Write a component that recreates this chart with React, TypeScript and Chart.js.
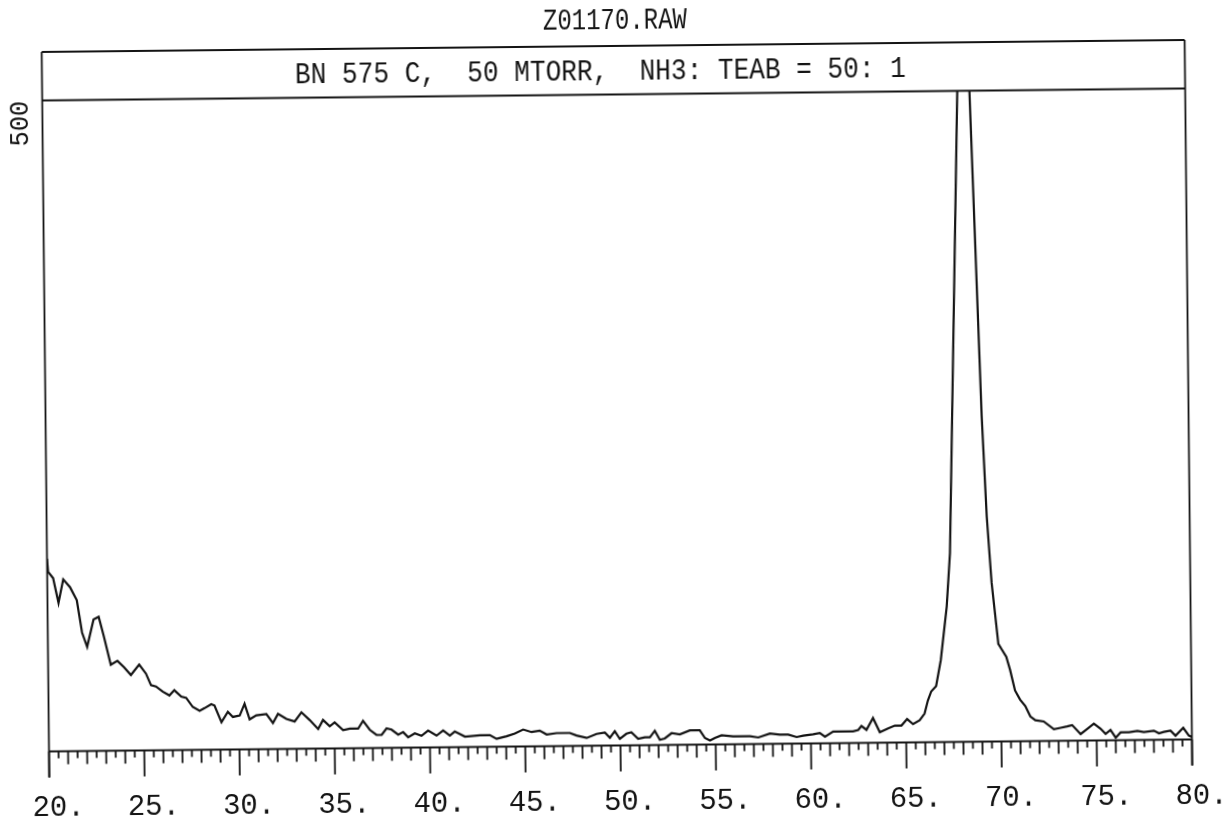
import { useEffect, useRef } from 'react';
import { Chart, registerables } from 'chart.js';

Chart.register(...registerables);

// Diffraction scan: 2-theta (degrees) and detector counts
const TWO_THETA = [
  20.0, 20.05, 20.31, 20.58, 20.84, 21.19, 21.54, 21.8, 22.06, 22.41, 22.68, 22.94, 23.29, 23.64, 23.99,
  24.34, 24.78, 25.13, 25.39, 25.65, 26.0, 26.35, 26.61, 26.97, 27.23, 27.57, 27.93, 28.19, 28.54, 28.71,
  29.07, 29.41, 29.67, 30.03, 30.29, 30.55, 30.9, 31.43, 31.77, 32.04, 32.48, 32.91, 33.27, 33.7, 34.14,
  34.4, 34.75, 35.01, 35.45, 35.8, 36.24, 36.5, 36.85, 37.2, 37.47, 37.73, 37.99, 38.34, 38.6, 38.86,
  39.21, 39.56, 39.91, 40.35, 40.7, 41.05, 41.31, 41.84, 42.63, 43.15, 43.5, 44.03, 44.46, 44.9, 45.34,
  45.77, 46.13, 46.65, 47.35, 47.7, 48.23, 48.75, 49.19, 49.45, 49.71, 49.97, 50.32, 50.58, 50.93, 51.28,
  51.55, 51.81, 52.07, 52.33, 52.69, 53.12, 53.65, 54.17, 54.44, 54.7, 54.96, 55.31, 55.92, 56.8, 57.24,
  57.85, 58.37, 58.81, 59.25, 59.6, 60.12, 60.47, 60.74, 61.17, 61.7, 62.22, 62.49, 62.66, 62.92, 63.27,
  63.62, 64.06, 64.41, 64.76, 65.06, 65.37, 65.72, 65.98, 66.16, 66.34, 66.6, 66.86, 67.2, 67.4, 68.35,
  69.14, 69.35, 69.57, 69.89, 70.05, 70.3, 70.49, 70.74, 71.0, 71.27, 71.53, 71.79, 72.23, 72.76, 73.11,
  73.46, 73.72, 74.16, 74.51, 74.86, 75.21, 75.47, 75.73, 76.0, 76.26, 76.7, 77.14, 77.48, 78.01, 78.27,
  78.53, 78.88, 79.14, 79.55, 79.84, 80.0,
];

const COUNTS = [
  148, 138, 133, 114, 132, 126, 116, 91, 80, 101, 103, 88, 66, 69, 64,
  58, 66, 59, 50, 49, 45, 42, 46, 41, 40, 33, 30, 32, 35, 34,
  21, 29, 25, 26, 35, 23, 26, 27, 20, 27, 23, 21, 28, 22, 15,
  22, 17, 20, 14, 15, 15, 21, 14, 10, 10, 15, 14, 10, 12, 8,
  11, 9, 13, 9, 13, 9, 12, 8, 9, 9, 6, 8, 10, 13, 11,
  12, 9, 10, 10, 8, 6, 9, 10, 6, 11, 5, 9, 10, 5, 6,
  6, 11, 4, 5, 9, 8, 11, 11, 5, 3, 5, 7, 6, 6, 5,
  8, 7, 7, 5, 6, 7, 8, 5, 9, 9, 9, 10, 13, 10, 19,
  8, 11, 13, 13, 18, 14, 17, 22, 32, 39, 43, 63, 104, 145, 675,
  250, 173, 122, 75, 71, 65, 55, 39, 32, 27, 19, 16, 15, 9, 10,
  11, 12, 5, 9, 13, 9, 5, 8, 2, 6, 6, 7, 6, 7, 5,
  6, 7, 3, 9, 3, 2,
];

const X_RANGE = [20, 80];
const Y_RANGE = [0, 500];
const X_TICK_STEP = 5;
const X_MINOR_STEP = 0.5;
const X_TICK_LABELS = ['20.', '25.', '30.', '35.', '40.', '45.', '50.', '55.', '60.', '65.', '70.', '75.', '80.'];
const Y_TICK_LABELS = ['500'];

const FILE_TITLE = 'Z01170.RAW';
const SAMPLE_TEXT = 'BN 575 C,  50 MTORR,  NH3: TEAB = 50: 1';

const INK = '#141414';
const MONO = "'Liberation Mono', 'DejaVu Sans Mono', monospace";

function drawText(ctx, text, cx, cy, size, sx, angle = 0) {
  ctx.save();
  ctx.translate(cx, cy);
  ctx.rotate(angle);
  ctx.scale(sx, 1);
  ctx.font = `${size}px ${MONO}`;
  ctx.textAlign = 'center';
  ctx.textBaseline = 'alphabetic';
  ctx.fillStyle = INK;
  ctx.fillText(text, 0, size * 0.344);
  ctx.restore();
}

// Plotter-style frame: header band, border, baseline with major/minor ticks
const plotterFrame = {
  id: 'plotterFrame',
  beforeDraw(chart) {
    const { ctx, width, height } = chart;
    ctx.save();
    ctx.fillStyle = '#ffffff';
    ctx.fillRect(0, 0, width, height);
    ctx.restore();
  },
  afterDraw(chart) {
    const { ctx, chartArea: a, scales } = chart;
    const xs = scales.x;
    const ys = scales.y;
    const bandTop = a.top - 48.5;
    const majorLen = 26;

    ctx.save();
    ctx.strokeStyle = INK;
    ctx.lineWidth = 1.8;
    ctx.lineCap = 'butt';
    ctx.beginPath();
    ctx.moveTo(a.left, bandTop);
    ctx.lineTo(a.right, bandTop);
    ctx.moveTo(a.left, a.top);
    ctx.lineTo(a.right, a.top);
    ctx.moveTo(a.left, bandTop);
    ctx.lineTo(a.left, a.bottom + majorLen);
    ctx.moveTo(a.right, bandTop);
    ctx.lineTo(a.right, a.bottom + majorLen);
    ctx.moveTo(a.left, a.bottom);
    ctx.lineTo(a.right, a.bottom);
    ctx.stroke();

    ctx.beginPath();
    const n = Math.round((xs.max - xs.min) / X_MINOR_STEP);
    for (let i = 0; i <= n; i++) {
      const v = xs.min + i * X_MINOR_STEP;
      const px = xs.getPixelForValue(v);
      const len = Math.abs(v % X_TICK_STEP) < 1e-6 ? majorLen : Math.abs(v % 1) < 1e-6 ? 13 : 7;
      ctx.moveTo(px, a.bottom);
      ctx.lineTo(px, a.bottom + len);
    }
    ctx.stroke();
    ctx.restore();

    const midX = (a.left + a.right) / 2;
    drawText(ctx, FILE_TITLE, midX + 2, 19, 30, 0.8);
    drawText(ctx, SAMPLE_TEXT, midX - 13, (bandTop + a.top) / 2, 29, 0.9);
    drawText(ctx, Y_TICK_LABELS[0], 22, ys.getPixelForValue(Y_RANGE[1]) + 23, 27, 0.94, -Math.PI / 2);
  },
};

export default function App() {
  const canvasRef = useRef(null);

  useEffect(() => {
    const canvas = canvasRef.current;
    if (!canvas) return;
    const chart = new Chart(canvas, {
      type: 'line',
      data: {
        datasets: [
          {
            data: TWO_THETA.map((t, i) => ({ x: t, y: COUNTS[i] })),
            borderColor: INK,
            borderWidth: 2.2,
            pointRadius: 0,
            tension: 0,
            fill: false,
          },
        ],
      },
      options: {
        responsive: false,
        animation: false,
        devicePixelRatio: 1,
        layout: { padding: { top: 94.5, left: 45.5, right: 37.5, bottom: 0 } },
        plugins: {
          legend: { display: false },
          tooltip: { enabled: false },
        },
        scales: {
          x: {
            type: 'linear',
            min: X_RANGE[0],
            max: X_RANGE[1],
            grid: { display: false, drawTicks: false },
            border: { display: false },
            afterFit: (scale) => {
              scale.height = 78.5;
              scale.paddingLeft = 0;
              scale.paddingRight = 0;
            },
            afterBuildTicks: (scale) => {
              scale.ticks = X_TICK_LABELS.map((_, i) => ({ value: X_RANGE[0] + i * X_TICK_STEP }));
            },
            ticks: {
              autoSkip: false,
              maxRotation: 0,
              minRotation: 0,
              padding: 39,
              labelOffset: 9,
              color: INK,
              font: { family: MONO, size: 29 },
              callback: (_v, i) => X_TICK_LABELS[i],
            },
          },
          y: {
            type: 'linear',
            display: false,
            min: Y_RANGE[0],
            max: Y_RANGE[1],
          },
        },
      },
      plugins: [plotterFrame],
    });
    return () => chart.destroy();
  }, []);

  return (
    <canvas
      ref={canvasRef}
      width={1226}
      height={824}
      style={{
        position: 'fixed',
        left: 0,
        top: 0,
        width: 1226,
        height: 824,
        transform: 'rotate(-0.6deg)',
        transformOrigin: '613px 412px',
      }}
    />
  );
}
